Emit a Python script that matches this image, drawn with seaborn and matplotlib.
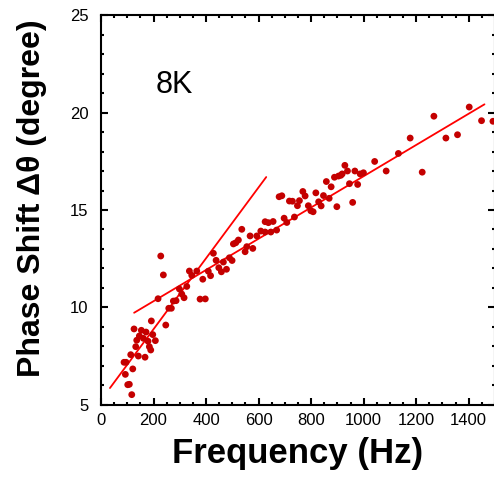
import numpy as np
import pandas as pd
import matplotlib
matplotlib.use('Agg')
import matplotlib.pyplot as plt
from matplotlib.ticker import MultipleLocator
import seaborn as sns

# measured points, frequency (Hz) vs phase shift (degree)
freq = [87.6, 95.2, 92.6, 101.7, 107.8, 117.0, 113.1, 120.8, 125.7, 132.2,
        136.0, 142.1, 145.9, 153.5, 161.1, 171.4, 167.6, 179.0, 184.0, 189.3,
        191.6, 197.0, 206.9, 217.1, 227.4, 237.3, 246.5, 257.9, 267.8, 275.4,
        285.7, 298.3, 307.4, 316.2, 326.5, 336.4, 345.5, 364.6, 377.1, 397.0,
        387.4, 408.4, 417.1, 427.8, 438.1, 448.4, 458.3, 465.9, 477.7, 488.8,
        499.0, 504.0, 513.1, 523.0, 536.0, 548.6, 555.0, 567.6, 577.9, 593.1,
        608.4, 624.8, 624.8, 637.3, 646.5, 655.2, 668.6, 678.1, 688.4, 697.1,
        707.4, 717.3, 728.8, 736.4, 747.8, 755.4, 768.4, 777.1, 789.3, 798.9,
        807.6, 817.9, 828.6, 838.1, 846.9, 857.9, 868.6, 876.2, 888.8, 897.9,
        904.0, 913.1, 918.1, 928.4, 938.3, 945.9, 958.1, 966.5, 977.1, 986.7,
        999.2, 1041.9, 1085.7, 1132.2, 1177.1, 1222.9, 1267.4, 1313.1, 1357.3,
        1401.9, 1448.8, 1492.2]
phase = [7.19, 7.19, 6.57, 6.04, 6.06, 5.53, 7.58, 6.85, 8.90, 7.99,
         8.32, 7.51, 8.54, 8.83, 8.42, 8.74, 7.45, 8.27, 7.99, 7.82,
         9.31, 8.61, 8.30, 10.45, 12.64, 11.67, 9.10, 9.96, 9.96, 10.33,
         10.35, 10.95, 10.69, 10.50, 11.08, 11.87, 11.65, 11.87, 10.43, 10.44,
         11.45, 11.86, 11.63, 12.78, 12.42, 12.04, 11.83, 12.33, 11.96, 12.55,
         12.41, 13.26, 13.32, 13.46, 14.01, 12.86, 13.12, 13.67, 13.03, 13.67,
         13.92, 14.40, 13.87, 14.35, 13.87, 14.41, 13.97, 15.68, 15.73, 14.58,
         14.36, 15.46, 15.45, 14.64, 15.22, 15.48, 15.95, 15.72, 15.22, 14.96,
         14.91, 15.88, 15.42, 15.21, 15.74, 16.46, 15.60, 16.19, 16.68, 15.17,
         16.74, 16.78, 16.85, 17.29, 17.00, 16.35, 15.39, 17.00, 16.31, 16.85,
         16.91, 17.49, 17.00, 17.90, 18.69, 16.94, 19.81, 18.69, 18.86,
         20.28, 19.58, 19.55]

# two linear fits (end points)
fit_low_x = [34, 629]
fit_low_y = [5.87, 16.69]
fit_high_x = [126, 1460]
fit_high_y = [9.73, 20.42]

sns.set_style('ticks')
plt.rcParams['font.family'] = ['Liberation Sans', 'DejaVu Sans']
plt.rcParams['text.color'] = 'black'
plt.rcParams['axes.labelcolor'] = 'black'
plt.rcParams['xtick.color'] = 'black'
plt.rcParams['ytick.color'] = 'black'

df = pd.DataFrame({'freq': freq, 'phase': phase})

fig = plt.figure(figsize=(4.94, 4.86), dpi=100)
ax = fig.add_axes([0.2045, 0.1667, 0.7975, 0.8024])

sns.scatterplot(data=df, x='freq', y='phase', ax=ax, color='#C40000',
                s=24, edgecolor='none', zorder=3)
sns.lineplot(x=fit_low_x, y=fit_low_y, ax=ax, color='#FF0000', lw=1.3, zorder=2)
sns.lineplot(x=fit_high_x, y=fit_high_y, ax=ax, color='#FF0000', lw=1.3, zorder=2)

ax.set_xlim(0, 1500)
ax.set_ylim(5, 25)
ax.xaxis.set_major_locator(MultipleLocator(200))
ax.xaxis.set_minor_locator(MultipleLocator(50))
ax.yaxis.set_major_locator(MultipleLocator(5))
ax.yaxis.set_minor_locator(MultipleLocator(1))
ax.tick_params(which='both', direction='in', top=True, right=True, width=1.5,
               labelsize=12, colors='black')
ax.tick_params(which='major', length=5)
ax.tick_params(which='minor', length=2.5)
ax.tick_params(axis='x', pad=6)
ax.tick_params(axis='y', pad=9)
for sp in ax.spines.values():
    sp.set_linewidth(1.5)
    sp.set_color('black')

ax.set_xlabel('Frequency (Hz)', fontsize=25, fontweight='bold', labelpad=6)
ax.set_ylabel('Phase Shift \u0394\u03b8 (degree)', fontsize=23, fontweight='bold')
ax.yaxis.set_label_coords(-0.137, 0.53)
ax.text(278, 21.4, '8K', fontsize=22, ha='center', va='center')

fig.savefig('out.png', dpi=100)
